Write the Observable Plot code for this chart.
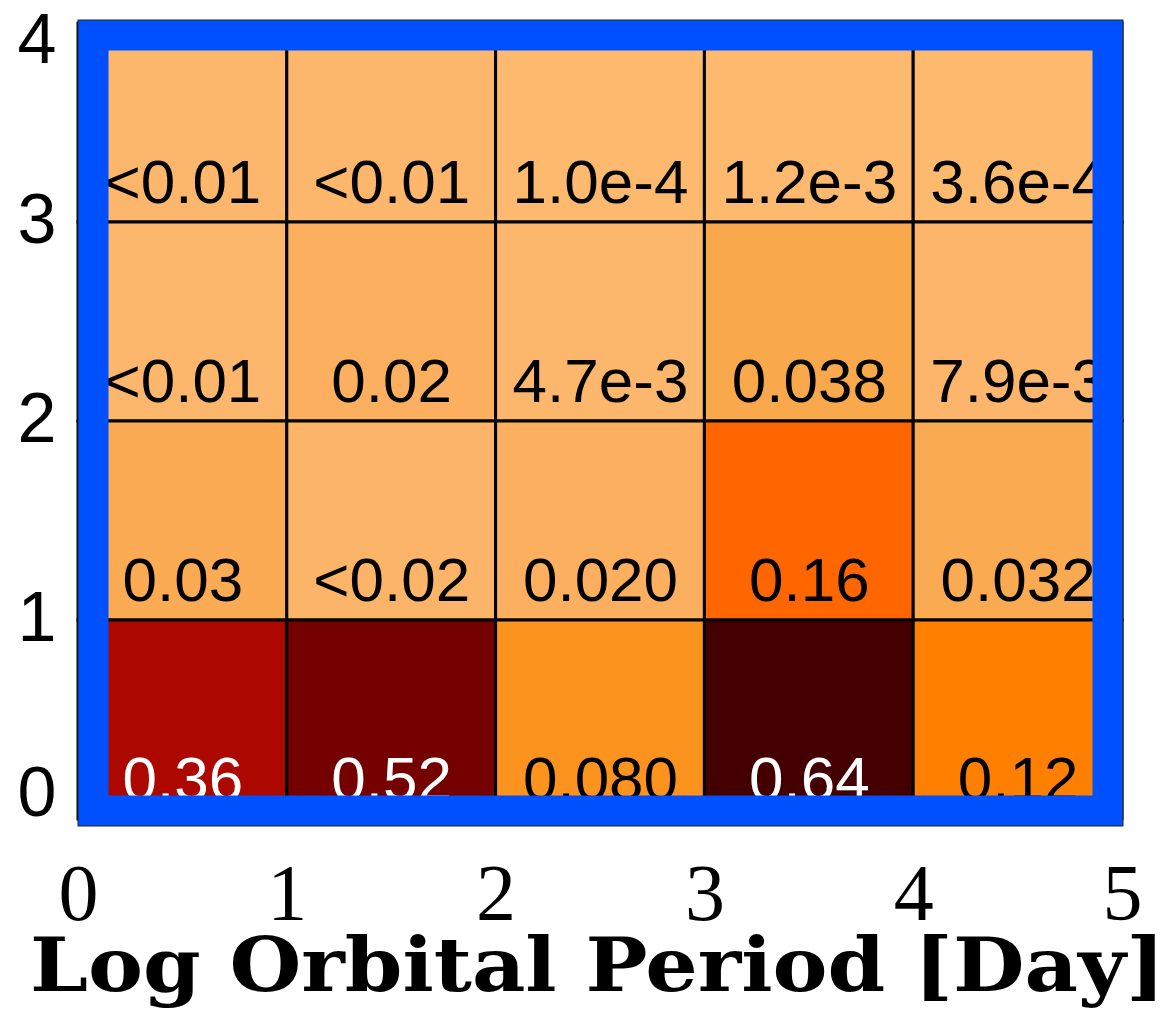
<!DOCTYPE html>
<html>
<head>
<meta charset="utf-8">
<script src="https://cdn.jsdelivr.net/npm/d3@7"></script>
<script src="https://cdn.jsdelivr.net/npm/@observablehq/plot@0.6"></script>
<style>
  html, body { margin: 0; padding: 0; background: #fff; }
  #chart svg { display: block; }
</style>
</head>
<body>
<div id="chart"></div>
<script>
// Columns: log orbital period bins (left edges), rows: y bins (bottom edges)
const periodBins = [0, 1, 2, 3, 4];
const rowBins = [3, 2, 1, 0]; // top to bottom

// Cell labels as printed, row by row (top to bottom)
const labelsRow3 = ["<0.01", "<0.01", "1.0e-4", "1.2e-3", "3.6e-4"];
const labelsRow2 = ["<0.01", "0.02", "4.7e-3", "0.038", "7.9e-3"];
const labelsRow1 = ["0.03", "<0.02", "0.020", "0.16", "0.032"];
const labelsRow0 = ["0.36", "0.52", "0.080", "0.64", "0.12"];

// Numeric values used for colouring (upper limits taken at half their bound)
const valuesRow3 = [0.005, 0.005, 1.0e-4, 1.2e-3, 3.6e-4];
const valuesRow2 = [0.005, 0.02, 4.7e-3, 0.038, 7.9e-3];
const valuesRow1 = [0.03, 0.01, 0.020, 0.16, 0.032];
const valuesRow0 = [0.36, 0.52, 0.080, 0.64, 0.12];

const xTicks = [0, 1, 2, 3, 4, 5];
const yTicks = [0, 1, 2, 3, 4];
const xLabel = "Log Orbital Period [Day]";

// Colour ramp (value stops -> colours)
const colorStops = [0, 0.01, 0.02, 0.035, 0.08, 0.12, 0.16, 0.36, 0.52, 0.64];
const colorRange = ["#FDBA6F", "#FCB469", "#FCAF5E", "#F9A94E", "#FC931F", "#FF7F00", "#FF6600", "#AD0800", "#750000", "#440000"];

const labelRows = [labelsRow3, labelsRow2, labelsRow1, labelsRow0];
const valueRows = [valuesRow3, valuesRow2, valuesRow1, valuesRow0];
const cells = [];
rowBins.forEach((r, i) => {
  periodBins.forEach((c, j) => {
    cells.push({x1: c, x2: c + 1, y1: r, y2: r + 1, value: valueRows[i][j], label: labelRows[i][j]});
  });
});

const sans = "Liberation Sans, Arial, Helvetica, sans-serif";
const serif = "Liberation Serif, Times New Roman, serif";
const yAxisOpts = {tickSize: 0, tickPadding: 22, fontSize: 70, fontFamily: sans, label: null, tickFormat: "d"};

const plot = Plot.plot({
  width: 1175,
  height: 1011,
  marginLeft: 78,
  marginRight: 53,
  marginTop: 23,
  marginBottom: 192,
  style: {background: "#fff", overflow: "visible"},
  x: {domain: [0, 5], axis: null},
  y: {domain: [0, 4], axis: null},
  color: {type: "linear", domain: colorStops, range: colorRange, interpolate: "rgb"},
  marks: [
    Plot.rect(cells, {x1: "x1", x2: "x2", y1: "y1", y2: "y2", fill: "value", stroke: "black", strokeWidth: 3}),
    Plot.text(cells, {
      x: d => (d.x1 + d.x2) / 2, y: "y1", text: "label",
      fill: d => d.value > 0.3 ? "white" : "black",
      fontSize: 62, fontFamily: sans,
      lineAnchor: "middle", dy: -39
    }),
    Plot.frame({stroke: "#222", strokeWidth: 2, insetTop: -3, insetBottom: -6}),
    Plot.frame({stroke: "#0050FE", strokeWidth: 30, insetLeft: 15, insetRight: 15, insetTop: 12, insetBottom: 9}),
    Plot.axisY({...yAxisOpts, ticks: [1, 2, 3], dy: -2}),
    Plot.axisY({...yAxisOpts, ticks: [4], dy: 17}),
    Plot.axisY({...yAxisOpts, ticks: [0], dy: -26}),
    Plot.axisX({ticks: xTicks, tickSize: 0, tickPadding: 44, fontSize: 80, fontFamily: serif, label: null, tickFormat: "d"}),
    Plot.text([xLabel], {
      frameAnchor: "bottom", text: d => d, dy: 148, dx: -3,
      fontSize: 74, fontWeight: "bold", fontFamily: "DejaVu Serif, serif",
      lineAnchor: "middle"
    })
  ]
});

document.getElementById("chart").appendChild(plot);

// Stretch the axis title to the reference width
d3.select(plot).selectAll("text").each(function() {
  if (this.textContent === xLabel) {
    d3.select(this).attr("textLength", 1135).attr("lengthAdjust", "spacingAndGlyphs");
  }
});
</script>
</body>
</html>
